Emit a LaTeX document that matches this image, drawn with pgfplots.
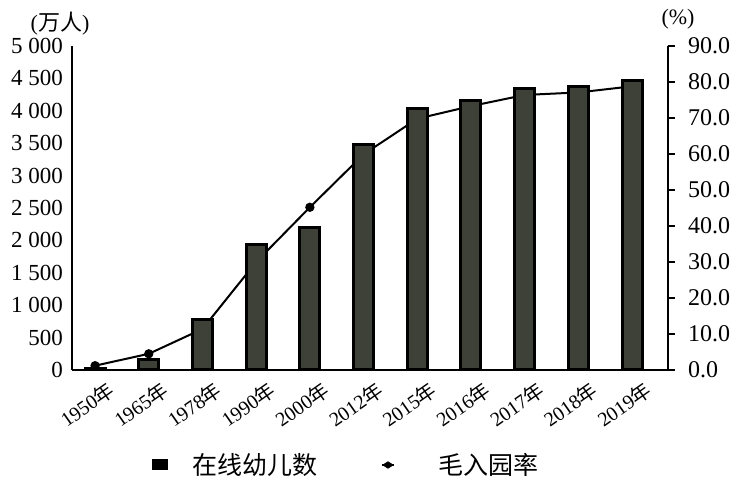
\documentclass[border=0pt]{standalone}
\usepackage{pgfplots}
\pgfplotsset{compat=1.18}
\usepackage{pgfplotstable}
\usepackage{fontspec}
\setmainfont{Liberation Serif}
\newfontfamily\cjk{Noto Sans CJK SC}
\definecolor{barfill}{HTML}{3E4137}

\pgfplotstableread{
x bar rate
0 30 1.2
1 160 4.5
2 772 11.4
3 1943 30.0
4 2202 45.2
5 3480 59.9
6 4032 69.8
7 4153 73.3
8 4350 76.4
9 4378 77.1
10 4468 78.8
}\data

\begin{document}
\begin{tikzpicture}
\useasboundingbox (-36pt,-57.5pt) rectangle (338pt,185pt);
% right axis with the rate line (drawn first, so the bars cover it)
\begin{axis}[
  scale only axis, width=298pt, height=162pt,
  xmin=-0.43, xmax=10.67, ymin=0, ymax=90,
  axis x line=none, axis y line*=right,
  axis line style={line width=1.2pt},
  ytick={0,10,...,90},
  tick align=outside, major tick length=3.5pt,
  tick style={line width=1pt, black},
  yticklabel style={font=\fontsize{12}{14}\selectfont, xshift=3pt,
    /pgf/number format/.cd, fixed, fixed zerofill, precision=1, assume math mode=true},
  clip=false,
]
\addplot[black, line width=1pt, mark=*, mark size=1.8pt] table[x=x,y=rate]{\data};
\node[anchor=south, font=\fontsize{11}{13}\selectfont] at (rel axis cs:1,1) [xshift=5pt, yshift=5pt] {(\%)};
\end{axis}
% left axis with the bars
\begin{axis}[
  scale only axis, width=298pt, height=162pt,
  xmin=-0.43, xmax=10.67, ymin=0, ymax=5000,
  axis x line*=bottom, axis y line*=left,
  x axis line style={line width=0.8pt},
  y axis line style={line width=1.2pt},
  xtick={0,...,10},
  xticklabels={1950{\cjk 年},1965{\cjk 年},1978{\cjk 年},1990{\cjk 年},2000{\cjk 年},2012{\cjk 年},2015{\cjk 年},2016{\cjk 年},2017{\cjk 年},2018{\cjk 年},2019{\cjk 年}},
  xticklabel style={rotate=35, anchor=north east, font=\fontsize{10}{12}\selectfont, inner sep=0.5pt, xshift=2.5pt, yshift=-6.5pt},
  ytick={0,500,...,5000},
  major tick length=0pt,
  yticklabel style={font=\fontsize{11.5}{13}\selectfont, xshift=-1pt,
    /pgf/number format/.cd, 1000 sep={\ }, assume math mode=true},
  clip=false,
  legend style={at={(rel axis cs:0,0)}, anchor=west, xshift=37pt, yshift=-47.5pt,
    draw=none, fill=none, legend columns=2,
    font=\fontsize{12.5}{14}\selectfont,
    /tikz/every odd column/.append style={column sep=10pt},
    /tikz/every even column/.append style={column sep=30pt}},
]
\addplot[ybar, bar width=10pt, draw=black, line width=1.5pt, fill=barfill,
  legend image code/.code={\fill[black] (0pt,-2pt) rectangle (6.5pt,2pt);}]
  table[x=x,y=bar]{\data};
\addlegendentry{\cjk 在线幼儿数}
\addlegendimage{legend image code/.code={\draw[black,line width=0.6pt] (0pt,0pt) -- (6pt,0pt); \fill[black] (3pt,0pt) +(-2.5pt,0pt) -- +(0pt,1.6pt) -- +(2.5pt,0pt) -- +(0pt,-1.6pt) -- cycle; \path (16pt,0pt);}}
\addlegendentry{\cjk 毛入园率}
\node[anchor=south, font=\fontsize{11}{13}\selectfont] at (rel axis cs:0,1) [xshift=-6pt, yshift=2pt] {({\cjk 万人})};
\end{axis}
\end{tikzpicture}
\end{document}
